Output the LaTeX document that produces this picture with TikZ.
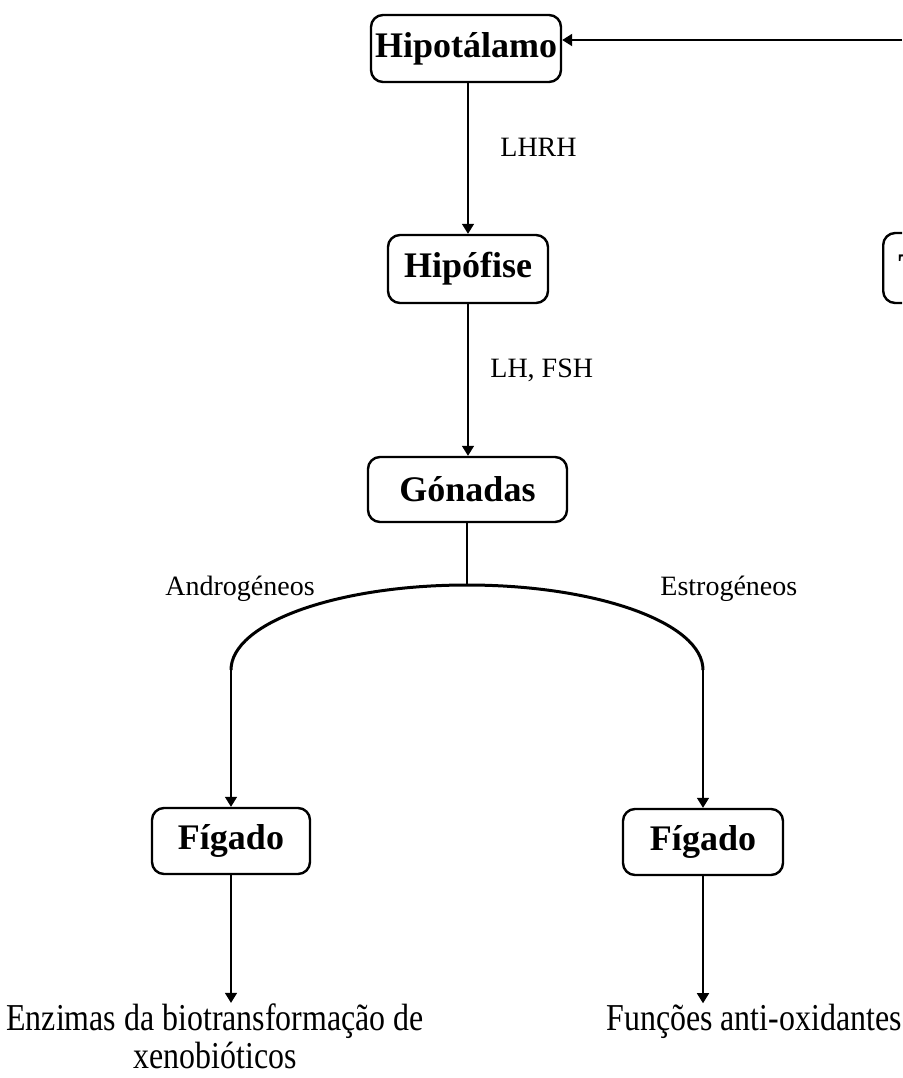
\documentclass[tikz,border=0pt]{standalone}
\usepackage{fontspec}
\setmainfont{Liberation Serif}
\usetikzlibrary{arrows.meta}
\begin{document}
\begin{tikzpicture}[x=0.5pt,y=-0.5pt,
  box/.style={draw,line width=1.2pt,rounded corners=6pt,inner sep=0pt,font=\fontsize{18}{20}\selectfont\bfseries},
  lbl/.style={inner sep=0pt,font=\fontsize{14}{16}\selectfont},
  outtext/.style={inner sep=0pt,font=\fontsize{19}{19}\selectfont},
  conn/.style={line width=0.75pt},
  arr/.style={conn,-{Triangle[length=5pt,width=6pt]}},
  arcline/.style={line width=1.5pt}]
\useasboundingbox (0,0) rectangle (902,1078);
\clip (0,0) rectangle (902,1078);
% boxes
\node[box,minimum width=95pt,minimum height=33.5pt] (hipot) at (466,48.5) {Hipotálamo};
\node[box,minimum width=80pt,minimum height=34pt] (hipof) at (468,269) {Hipófise};
\node[box,minimum width=99.5pt,minimum height=32.5pt] (gon) at (467.5,489.5) {Gónadas};
\node[box,minimum width=79pt,minimum height=33pt] (fig1) at (231,841) {Fígado};
\node[box,minimum width=80pt,minimum height=33pt] (fig2) at (703,842) {Fígado};
\node[box,minimum width=80pt,minimum height=35pt,anchor=west] (tbox) at (882,268) {};
\node[inner sep=0pt,anchor=base west,font=\fontsize{18}{20}\selectfont\bfseries] (tletter) at (898,278) {T};
% labels
\node[lbl,anchor=base west] (l1) at (500,156) {LHRH};
\node[lbl,anchor=base west] (l2) at (490,377) {LH, FSH};
\node[lbl,anchor=base west] (l3) at (165,595) {Androgéneos};
\node[lbl,anchor=base west] (l4) at (660,595) {Estrogéneos};
% outputs
\node[outtext,anchor=base west] (out1) at (6,1068) {\scalebox{0.84}[1]{\vbox{\halign{\hfil#\hfil\cr Enzimas da biotransformação de\cr xenobióticos\cr}}}};
\node[outtext,anchor=base west] (out2) at (606,1030) {\scalebox{0.84}[1]{Funções anti-oxidantes}};
% connectors
\coordinate (fb) at (902,40);
\draw[arr,line width=1pt] (fb) -- (hipot.east |- fb);
\draw[arr] (hipot.south -| hipof.north) -- (hipof.north);
\draw[arr] (hipof.south) -- (hipof.south |- gon.north);
\coordinate (top) at (467,585);
\coordinate (la) at (231,670);
\coordinate (ra) at (703,670);
\draw[conn,line width=1pt] (gon.south -| top) -- (top);
\draw[arcline] (la) arc[start angle=180,end angle=0,x radius=118pt,y radius=42.5pt];
\draw[arr] (la) -- (fig1.north);
\draw[arr] (ra) -- (fig2.north);
\draw[arr] (fig1.south) -- (fig1.south |- out1.north);
\draw[arr] (fig2.south) -- (fig2.south |- out2.north);
\end{tikzpicture}
\end{document}
